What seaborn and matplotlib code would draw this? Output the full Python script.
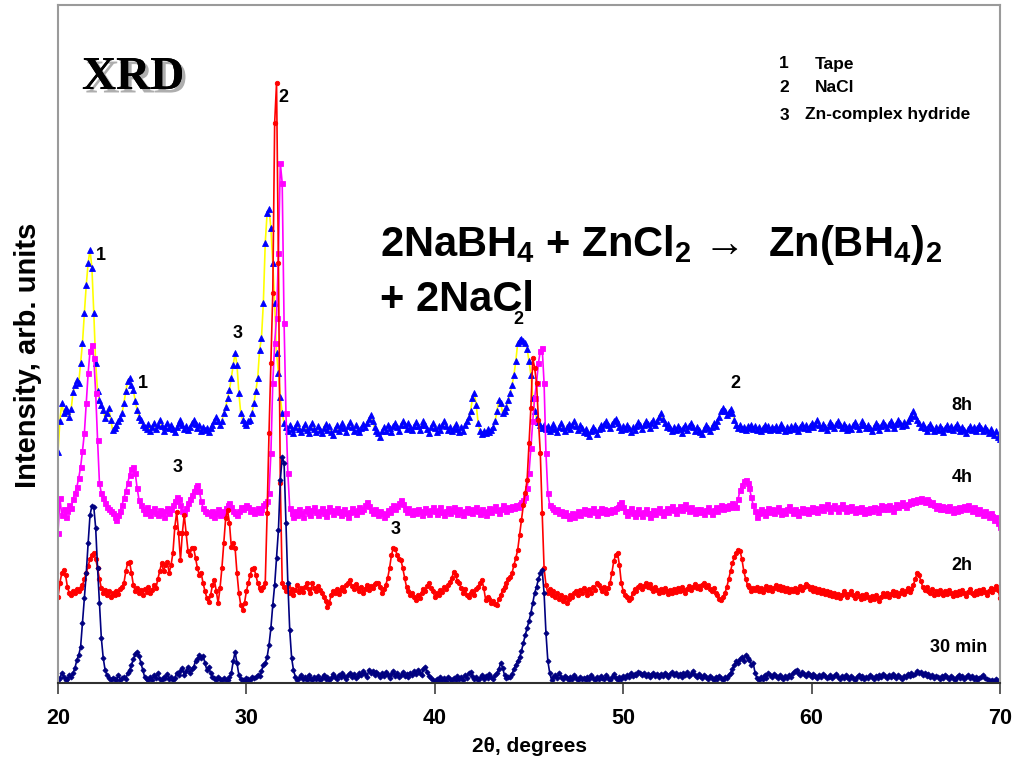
import numpy as np
import matplotlib
matplotlib.use("Agg")
import matplotlib.pyplot as plt
import matplotlib.patheffects as pe
import seaborn as sns

# 2-theta scan grid, 20.0 ... 70.0 deg in 0.1 deg steps
two_theta = np.round(np.arange(200, 701) / 10.0, 1)

# Stacked intensities (arb. units), one row per degree
i_30min = [
    3, 5, 10, 6, 3, 4, 8, 6, 10, 15,
    23, 28, 36, 60, 85, 110, 140, 168, 177, 176,
    155, 115, 80, 45, 25, 13, 8, 5, 3, 5,
    4, 3, 8, 3, 5, 6, 4, 10, 13, 18,
    24, 29, 31, 27, 20, 13, 6, 4, 3, 6,
    3, 8, 5, 10, 4, 3, 6, 5, 9, 4,
    6, 3, 5, 10, 8, 12, 15, 8, 12, 16,
    10, 14, 16, 22, 24, 28, 25, 27, 20, 13,
    16, 10, 6, 5, 3, 6, 4, 3, 5, 3,
    3, 6, 10, 22, 31, 20, 8, 4, 3, 2,
    5, 4, 3, 6, 5, 6, 8, 7, 12, 18,
    20, 26, 38, 55, 78, 98, 125, 153, 203, 226,
    220, 160, 100, 53, 25, 13, 6, 3, 5, 8,
    4, 6, 3, 8, 5, 3, 6, 4, 7, 3,
    5, 8, 4, 6, 3, 5, 9, 6, 4, 8,
    6, 10, 7, 4, 8, 10, 6, 9, 5, 7,
    10, 8, 12, 9, 6, 13, 10, 12, 8, 11,
    9, 6, 10, 7, 11, 8, 5, 9, 12, 7,
    10, 6, 8, 11, 7, 9, 6, 10, 8, 12,
    9, 13, 10, 8, 14, 16, 11, 7, 5, 3,
    2, 4, 3, 6, 3, 5, 2, 6, 4, 3,
    5, 3, 7, 4, 6, 3, 8, 5, 10, 11,
    7, 4, 6, 3, 5, 8, 4, 7, 5, 9,
    6, 4, 8, 10, 14, 20, 15, 8, 5, 6,
    6, 9, 14, 18, 22, 26, 32, 40, 48, 55,
    62, 70, 80, 90, 96, 104, 110, 113, 90, 50,
    22, 10, 3, 6, 8, 5, 10, 6, 4, 7,
    5, 3, 6, 4, 8, 5, 3, 6, 4, 5,
    3, 6, 4, 8, 5, 3, 6, 4, 7, 5,
    4, 8, 5, 3, 6, 9, 5, 3, 6, 4,
    7, 5, 8, 6, 10, 7, 9, 8, 11, 10,
    8, 10, 7, 9, 6, 8, 10, 7, 9, 6,
    9, 7, 10, 8, 6, 9, 11, 8, 10, 7,
    9, 6, 10, 8, 11, 7, 9, 12, 8, 6,
    9, 7, 5, 8, 6, 4, 7, 5, 3, 6,
    4, 7, 5, 3, 6, 5, 8, 10, 14, 18,
    22, 20, 24, 26, 22, 28, 25, 23, 18, 20,
    10, 5, 3, 6, 4, 8, 5, 10, 8, 6,
    9, 7, 5, 8, 6, 4, 7, 5, 8, 6,
    10, 12, 13, 10, 8, 11, 9, 7, 10, 8,
    6, 9, 7, 5, 8, 6, 9, 7, 5, 6,
    8, 5, 7, 9, 6, 4, 7, 5, 8, 6,
    4, 7, 5, 3, 6, 8, 5, 7, 4, 6,
    5, 8, 6, 4, 7, 5, 8, 6, 9, 7,
    5, 8, 6, 9, 7, 5, 8, 6, 4, 7,
    6, 9, 7, 10, 8, 9, 12, 10, 11, 8,
    10, 7, 9, 6, 8, 5, 7, 6, 4, 7,
    5, 8, 6, 4, 7, 5, 3, 6, 8, 5,
    7, 4, 6, 8, 5, 7, 4, 6, 3, 5,
    6, 8, 5, 4, 3, 2, 3, 2, 4, 2,
    2,
]

i_2h = [
    86, 100, 110, 113, 108, 96, 90, 88, 92, 90,
    94, 92, 95, 98, 104, 110, 117, 124, 128, 130,
    124, 115, 104, 95, 90, 93, 88, 92, 86, 90,
    88, 92, 89, 94, 96, 100, 112, 120, 121, 110,
    98, 92, 95, 90, 93, 88, 94, 91, 96, 90,
    93, 98, 95, 104, 112, 120, 112, 118, 121, 110,
    118, 130, 156, 171, 150, 123, 150, 168, 150, 132,
    128, 135, 135, 125, 115, 108, 110, 100, 92, 85,
    81, 88, 98, 103, 92, 80, 95, 115, 140, 165,
    173, 160, 136, 140, 135, 110, 90, 78, 73, 80,
    92, 100, 108, 114, 115, 108, 100, 95, 93, 96,
    100, 170, 250, 320, 390, 560, 600, 420, 200, 100,
    96, 92, 97, 90, 94, 88, 93, 98, 91, 95,
    91, 96, 100, 94, 90, 100, 95, 92, 97, 93,
    90, 86, 82, 76, 80, 88, 92, 90, 94, 89,
    93, 96, 92, 98, 100, 103, 97, 94, 99, 95,
    92, 96, 90, 94, 98, 93, 97, 95, 99, 100,
    100, 96, 90, 94, 98, 105, 115, 128, 135, 134,
    128, 124, 123, 115, 105, 96, 92, 88, 90, 86,
    83, 88, 85, 90, 94, 92, 97, 100, 95, 92,
    86, 90, 88, 93, 91, 96, 94, 98, 101, 105,
    111, 108, 102, 100, 95, 90, 94, 88, 86, 90,
    92, 88, 94, 96, 100, 103, 95, 83, 86, 84,
    80, 82, 79, 78, 84, 88, 93, 96, 100, 104,
    106, 110, 118, 125, 133, 148, 163, 178, 190, 203,
    240, 275, 325, 315, 300, 263, 230, 170, 115, 98,
    90, 94, 88, 92, 86, 90, 84, 88, 82, 86,
    80, 84, 88, 86, 90, 92, 88, 93, 90, 95,
    92, 88, 94, 90, 96, 93, 100, 98, 95, 92,
    96, 90, 95, 100, 110, 122, 128, 130, 118, 100,
    92, 88, 86, 83, 85, 90, 94, 92, 96, 98,
    94, 97, 100, 96, 99, 95, 92, 96, 93, 90,
    94, 91, 95, 92, 89, 93, 90, 94, 91, 95,
    92, 96, 93, 90, 94, 97, 93, 96, 99, 95,
    97, 94, 98, 100, 96, 98, 94, 92, 95, 90,
    88, 84, 83, 86, 90, 96, 104, 112, 120, 126,
    130, 133, 132, 124, 112, 104, 98, 96, 92, 95,
    93, 96, 92, 95, 91, 94, 97, 93, 96, 92,
    95, 98, 94, 97, 93, 96, 92, 95, 91, 94,
    92, 95, 91, 94, 97, 93, 96, 99, 97, 94,
    96, 92, 95, 91, 94, 90, 93, 89, 92, 88,
    91, 87, 90, 86, 89, 85, 88, 92, 89, 86,
    89, 92, 88, 85, 90, 87, 84, 88, 85, 89,
    86, 83, 87, 84, 88, 85, 82, 86, 90, 87,
    90, 86, 89, 92, 88, 91, 87, 90, 93, 89,
    92, 95, 91, 94, 98, 104, 110, 108, 102, 96,
    93, 96, 92, 90, 94, 88, 92, 89, 93, 90,
    88, 92, 89, 93, 90, 87, 91, 88, 92, 89,
    93, 90, 87, 91, 94, 90, 88, 92, 89, 93,
    90, 94, 91, 88, 92, 95, 91, 94, 97, 93,
    85,
]

i_4h = [
    150, 185, 168, 174, 166, 172, 178, 175, 184, 190,
    196, 205, 216, 232, 250, 280, 310, 332, 338, 325,
    290, 243, 200, 190, 185, 180, 176, 174, 172, 170,
    166, 163, 168, 172, 178, 185, 192, 200, 208, 214,
    216, 210, 195, 183, 178, 174, 170, 176, 172, 168,
    172, 175, 170, 168, 173, 170, 166, 172, 175, 170,
    174, 178, 182, 186, 184, 178, 172, 170, 175, 180,
    184, 188, 192, 196, 198, 192, 182, 175, 172, 170,
    171, 168, 172, 166, 170, 174, 168, 172, 169, 175,
    178, 180, 176, 172, 170, 168, 172, 176, 174, 176,
    178, 176, 172, 174, 170, 172, 175, 171, 174, 178,
    180, 182, 190, 230, 300, 340, 365, 430, 520, 500,
    360, 270, 210, 175, 170, 166, 172, 168, 174, 170,
    166, 172, 175, 170, 168, 173, 176, 171, 168, 172,
    175, 170, 167, 172, 176, 173, 169, 172, 175, 171,
    168, 172, 174, 170, 166, 171, 175, 172, 169, 173,
    176, 172, 174, 178, 181, 177, 173, 170, 174, 171,
    168, 172, 170, 166, 169, 173, 171, 175, 178, 174,
    177, 180, 183, 179, 174, 171, 175, 172, 169, 173,
    170, 174, 172, 168, 171, 175, 172, 169, 173, 176,
    172, 169, 173, 176, 171, 168, 172, 175, 170, 173,
    176, 172, 169, 174, 171, 168, 172, 175, 171, 174,
    170, 173, 176, 172, 169, 174, 171, 168, 172, 175,
    171, 174, 177, 173, 170, 174, 178, 175, 172, 176,
    174, 177, 175, 178, 176, 179, 181, 183, 186, 195,
    210, 235, 262, 285, 300, 320, 332, 335, 300, 230,
    190, 178, 176, 174, 172, 174, 170, 172, 168, 171,
    168, 165, 167, 170, 166, 169, 172, 168, 171, 174,
    170, 173, 169, 172, 175, 171, 168, 172, 175, 171,
    174, 170, 173, 171, 174, 172, 175, 176, 179, 181,
    176, 172, 168, 172, 175, 170, 167, 171, 174, 170,
    167, 171, 174, 170, 166, 170, 173, 169, 172, 175,
    171, 168, 172, 175, 171, 174, 177, 173, 170, 174,
    177, 173, 176, 179, 175, 172, 176, 173, 170, 174,
    171, 174, 172, 169, 173, 176, 172, 169, 173, 176,
    172, 175, 178, 174, 177, 175, 178, 176, 180, 178,
    176, 184, 193, 198, 202, 203, 200, 195, 186, 178,
    172, 166, 170, 174, 171, 168, 172, 175, 171, 174,
    170, 173, 176, 172, 169, 173, 170, 174, 177, 173,
    170, 174, 171, 168, 172, 175, 171, 174, 170, 173,
    176, 172, 175, 171, 174, 177, 173, 176, 179, 175,
    172, 176, 178, 175, 172, 176, 179, 175, 172, 176,
    173, 177, 174, 171, 175, 172, 176, 173, 170, 174,
    171, 175, 172, 176, 174, 171, 175, 178, 174, 177,
    174, 178, 175, 172, 176, 179, 176, 178, 181, 178,
    176, 179, 182, 180, 183, 181, 184, 182, 185, 183,
    181, 184, 182, 179, 181, 178, 175, 178, 174, 177,
    174, 176, 173, 177, 174, 171, 175, 172, 176, 173,
    175, 177, 174, 178, 175, 172, 176, 173, 170, 174,
    171, 168, 172, 169, 166, 170, 167, 163, 166, 160,
    156,
]

i_8h = [
    231, 262, 280, 270, 275, 272, 266, 274, 291, 298,
    303, 300, 320, 340, 370, 398, 420, 433, 415, 370,
    320, 292, 283, 278, 273, 265, 270, 275, 263, 253,
    255, 258, 262, 265, 270, 280, 292, 302, 305, 298,
    293, 282, 273, 266, 263, 258, 256, 254, 259, 252,
    256, 260, 254, 258, 263, 257, 252, 256, 260, 255,
    258, 254, 251, 256, 260, 263, 258, 254, 257, 253,
    256, 260, 263, 259, 255, 258, 252, 256, 253, 255,
    251, 255, 258, 262, 266, 262, 258, 262, 270, 276,
    285, 293, 305, 318, 330, 318, 290, 270, 263, 260,
    258, 262, 263, 270, 280, 292, 305, 333, 345, 380,
    440, 470, 474, 455, 420, 380, 330, 310, 286, 270,
    260, 256, 252, 258, 254, 250, 256, 260, 254, 251,
    255, 259, 253, 250, 256, 260, 254, 251, 257, 253,
    250, 255, 259, 253, 257, 251, 248, 254, 258, 252,
    256, 260, 255, 251, 257, 261, 256, 252, 258, 254,
    251, 255, 259, 256, 260, 264, 268, 262, 256, 252,
    250, 246, 252, 256, 252, 258, 255, 251, 257, 260,
    256, 252, 258, 262, 258, 254, 260, 256, 253, 257,
    261, 257, 253, 258, 262, 258, 254, 250, 256, 260,
    255, 251, 257, 253, 258, 262, 257, 253, 256, 252,
    255, 259, 254, 251, 256, 252, 258, 262, 266, 272,
    285, 290, 278, 260, 252, 249, 252, 250, 254, 251,
    253, 256, 262, 272, 283, 280, 270, 272, 276, 283,
    290, 298, 308, 322, 340, 343, 344, 342, 340, 334,
    322, 308, 285, 272, 265, 261, 258, 255, 258, 254,
    257, 252, 255, 259, 254, 251, 256, 260, 255, 252,
    256, 259, 254, 258, 262, 257, 253, 258, 255, 251,
    254, 250, 247, 252, 256, 253, 249, 254, 258, 255,
    259, 262, 258, 255, 259, 262, 264, 260, 256, 253,
    257, 254, 258, 255, 251, 256, 253, 257, 261, 258,
    254, 258, 262, 259, 255, 260, 263, 258, 262, 266,
    270, 264, 260, 256, 259, 255, 252, 256, 253, 257,
    254, 250, 255, 258, 253, 257, 260, 256, 252, 256,
    253, 251, 249, 254, 258, 255, 252, 256, 260, 257,
    262, 266, 272, 275, 272, 268, 271, 274, 270, 263,
    258, 255, 258, 254, 256, 253, 257, 255, 258, 254,
    257, 253, 256, 252, 255, 258, 254, 257, 253, 256,
    254, 257, 253, 256, 259, 255, 252, 256, 253, 257,
    254, 258, 255, 252, 256, 259, 255, 258, 254, 257,
    260, 256, 259, 263, 258, 255, 259, 256, 253, 257,
    261, 258, 255, 259, 262, 258, 255, 259, 256, 253,
    257, 254, 258, 261, 257, 254, 258, 262, 258, 255,
    258, 255, 252, 256, 260, 257, 253, 257, 261, 258,
    255, 259, 262, 258, 255, 259, 263, 260, 257, 261,
    258, 262, 265, 268, 272, 267, 263, 260, 256, 259,
    255, 252, 256, 259, 255, 252, 256, 253, 257, 254,
    251, 255, 258, 254, 257, 253, 256, 259, 255, 252,
    256, 253, 250, 254, 257, 253, 256, 252, 255, 258,
    255, 252, 256, 253, 250, 254, 251, 248, 252, 246,
    244,
]

series_names = ["8h", "4h", "2h", "30 min"]
peak_labels = ["1", "2", "3", "1", "3", "3", "2", "2"]
peak_label_pos = [(22.25, 428), (31.95, 585), (29.55, 350), (24.5, 300),
                  (26.35, 215), (37.9, 153), (44.45, 363), (55.95, 300)]
phase_ids = ["1", "2", "3"]
phase_names = ["Tape", "NaCl", "Zn-complex hydride"]
x_ticks = [20, 30, 40, 50, 60, 70]

sns.set_style("white")
plt.rcParams["font.family"] = ["Liberation Sans", "DejaVu Sans"]
plt.rcParams["text.color"] = "black"
plt.rcParams["axes.labelcolor"] = "black"
plt.rcParams["xtick.color"] = "black"
plt.rcParams["mathtext.fontset"] = "custom"
plt.rcParams["mathtext.bf"] = "Liberation Sans:bold"
plt.rcParams["mathtext.rm"] = "Liberation Sans:bold"
plt.rcParams["mathtext.default"] = "bf"

fig = plt.figure(figsize=(10.2, 7.6), dpi=100)
ax = fig.add_axes([58 / 1020, 77 / 760, 942 / 1020, 678 / 760])

# (values, line colour, marker colour, marker, marker size)
styles = [
    (i_8h, "#FFFF00", "#0000FF", "^", 4.5),
    (i_4h, "#FF00FF", "#FF00FF", "s", 3.6),
    (i_2h, "#FF0000", "#FF0000", "o", 3.2),
    (i_30min, "#000080", "#000080", "D", 2.6),
]
for vals, lc, mc, mk, ms in styles:
    sns.lineplot(x=two_theta, y=np.asarray(vals, dtype=float), ax=ax,
                 color=lc, linewidth=1.2, marker=mk, markersize=ms,
                 markerfacecolor=mc, markeredgecolor=mc, markeredgewidth=0.6,
                 estimator=None, sort=False, legend=False)

ax.set_xlim(20, 70)
ax.set_ylim(0, 678)
ax.set_xticks(x_ticks)
ax.set_xticklabels([str(t) for t in x_ticks], fontsize=15.5, fontweight="bold")
ax.set_yticks([])
ax.tick_params(axis="x", direction="out", length=8, width=1.2, color="#404040",
               bottom=True, pad=10)
for side in ["left", "top", "right"]:
    ax.spines[side].set_color("#9a9a9a")
    ax.spines[side].set_linewidth(1.5)
ax.spines["bottom"].set_color("#303030")
ax.spines["bottom"].set_linewidth(1.5)

ax.set_xlabel("2θ, degrees", fontsize=15, fontweight="bold", labelpad=6)
ax.set_ylabel("Intensity, arb. units", fontsize=21, fontweight="bold")
ax.yaxis.set_label_coords(-0.017, 0.484)

# peak assignments
for lab, (px, py) in zip(peak_labels, peak_label_pos):
    ax.text(px, py, lab, fontsize=13, fontweight="bold", ha="center", va="center")

# pattern names
name_pos = [(68.0, 278), (68.0, 205), (68.0, 118), (67.8, 36)]
for name, (px, py) in zip(series_names, name_pos):
    ax.text(px, py, name, fontsize=13, fontweight="bold", ha="center", va="center")

# phase key, upper right
key_y = [64, 88, 115]
key_x_name = [815, 815, 805]
for pid, pname, yy, xn in zip(phase_ids, phase_names, key_y, key_x_name):
    fig.text(784 / 1020, 1 - yy / 760, pid, fontsize=12.5, fontweight="bold",
             ha="center", va="center")
    fig.text(xn / 1020, 1 - yy / 760, pname, fontsize=12.5, fontweight="bold",
             ha="left", va="center")

# title with drop shadow
fig.text(82 / 1020, 1 - 78 / 760, "XRD", family="Liberation Serif",
         fontsize=34, fontweight="bold", ha="left", va="center",
         path_effects=[pe.withSimplePatchShadow(offset=(2.5, -2.5),
                                                shadow_rgbFace="#9a9a9a", alpha=0.8),
                       pe.Normal()])

# reaction
fig.text(380 / 1020, 1 - 245 / 760,
         r"2NaBH$_4$ + ZnCl$_2$ →  Zn(BH$_4$)$_2$",
         fontsize=30, fontweight="bold", ha="left", va="center")
fig.text(380 / 1020, 1 - 300 / 760, "+ 2NaCl",
         fontsize=30, fontweight="bold", ha="left", va="center")

fig.savefig("out.png", dpi=100)
